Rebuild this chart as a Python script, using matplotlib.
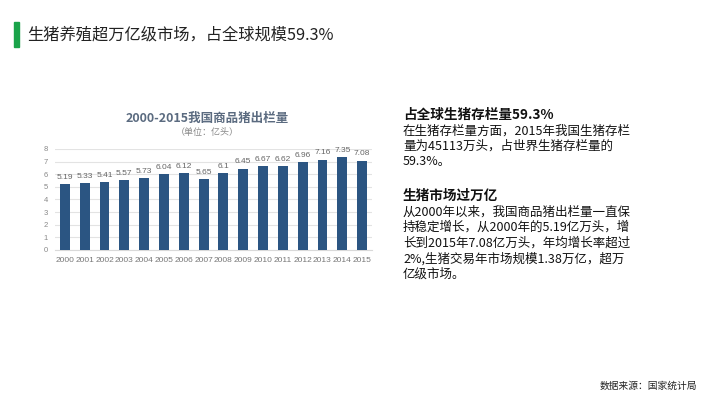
import matplotlib
matplotlib.use("Agg")
import matplotlib.pyplot as plt
from matplotlib.patches import Rectangle

plt.rcParams['font.family'] = ['Noto Sans CJK SC', 'DejaVu Sans']

years = [str(y) for y in range(2000, 2016)]
values = [5.19, 5.33, 5.41, 5.57, 5.73, 6.04, 6.12, 5.65, 6.1, 6.45, 6.67, 6.62, 6.96, 7.16, 7.35, 7.08]
value_labels = ["5.19", "5.33", "5.41", "5.57", "5.73", "6.04", "6.12", "5.65", "6.1", "6.45", "6.67", "6.62", "6.96", "7.16", "7.35", "7.08"]
yticks = list(range(0, 9))

W, H = 720, 405
fig = plt.figure(figsize=(7.2, 4.05), dpi=100)
fig.patch.set_facecolor('white')

num_font = ['Liberation Sans', 'DejaVu Sans']

# header
fig.patches.append(Rectangle((14 / W, 1 - 47 / H), 5 / W, 25 / H, transform=fig.transFigure,
                             color='#1aa34a', zorder=5))
fig.text(27 / W, 1 - 35 / H, "生猪养殖超万亿级市场，占全球规模59.3%", fontsize=11.7,
         color='#222222', va='center', ha='left')

# chart
ax = fig.add_axes([55 / W, 1 - 250 / H, (372 - 55) / W, (250 - 149) / H])
x = list(range(len(years)))
ax.bar(x, values, width=0.5, color='#2b5582', zorder=3)
for xi, v, lab in zip(x, values, value_labels):
    ax.text(xi, v + 0.25, lab, ha='center', va='bottom', fontsize=6, color='#666666', zorder=4,
            family=num_font)
ax.set_xlim(-0.5, 15.5)
ax.set_ylim(0, 8)
ax.set_yticks(yticks)
ax.set_yticklabels([str(t) for t in yticks], fontsize=5.5, color='#888888', family=num_font)
ax.set_xticks(x)
ax.set_xticklabels(years, fontsize=6, color='#777777', family=num_font)
ax.tick_params(length=0, pad=5)
ax.grid(axis='y', color='#e3e3e3', linewidth=0.8, zorder=0)
for s in ax.spines.values():
    s.set_visible(False)
ax.spines['bottom'].set_visible(True)
ax.spines['bottom'].set_color('#d9d9d9')

fig.text(207 / W, 1 - 118 / H, "2000-2015我国商品猪出栏量", fontsize=9, fontweight='bold',
         color='#5b6b80', ha='center', va='center')
fig.text(207 / W, 1 - 132 / H, "（单位：亿头）", fontsize=6.5, color='#888888', ha='center', va='center')

# right text
tx = 403 / W
fig.text(tx, 1 - 115 / H, "占全球生猪存栏量59.3%", fontsize=9.8, fontweight='bold', color='#111111', va='center')
body1 = ["在生猪存栏量方面，2015年我国生猪存栏",
         "量为45113万头，占世界生猪存栏量的",
         "59.3%。"]
for i, line in enumerate(body1):
    fig.text(tx, 1 - (131 + 15.3 * i) / H, line, fontsize=9, color='#111111', va='center')

fig.text(tx, 1 - 196 / H, "生猪市场过万亿", fontsize=9.8, fontweight='bold', color='#111111', va='center')
body2 = ["从2000年以来，我国商品猪出栏量一直保",
         "持稳定增长，从2000年的5.19亿万头，增",
         "长到2015年7.08亿万头，年均增长率超过",
         "2%,生猪交易年市场规模1.38万亿，超万",
         "亿级市场。"]
for i, line in enumerate(body2):
    fig.text(tx, 1 - (212 + 15.5 * i) / H, line, fontsize=9, color='#111111', va='center')

fig.text(697 / W, 1 - 386 / H, "数据来源：国家统计局", fontsize=7, color='#222222', ha='right', va='center')

fig.savefig("out.png", dpi=100, facecolor='white')
